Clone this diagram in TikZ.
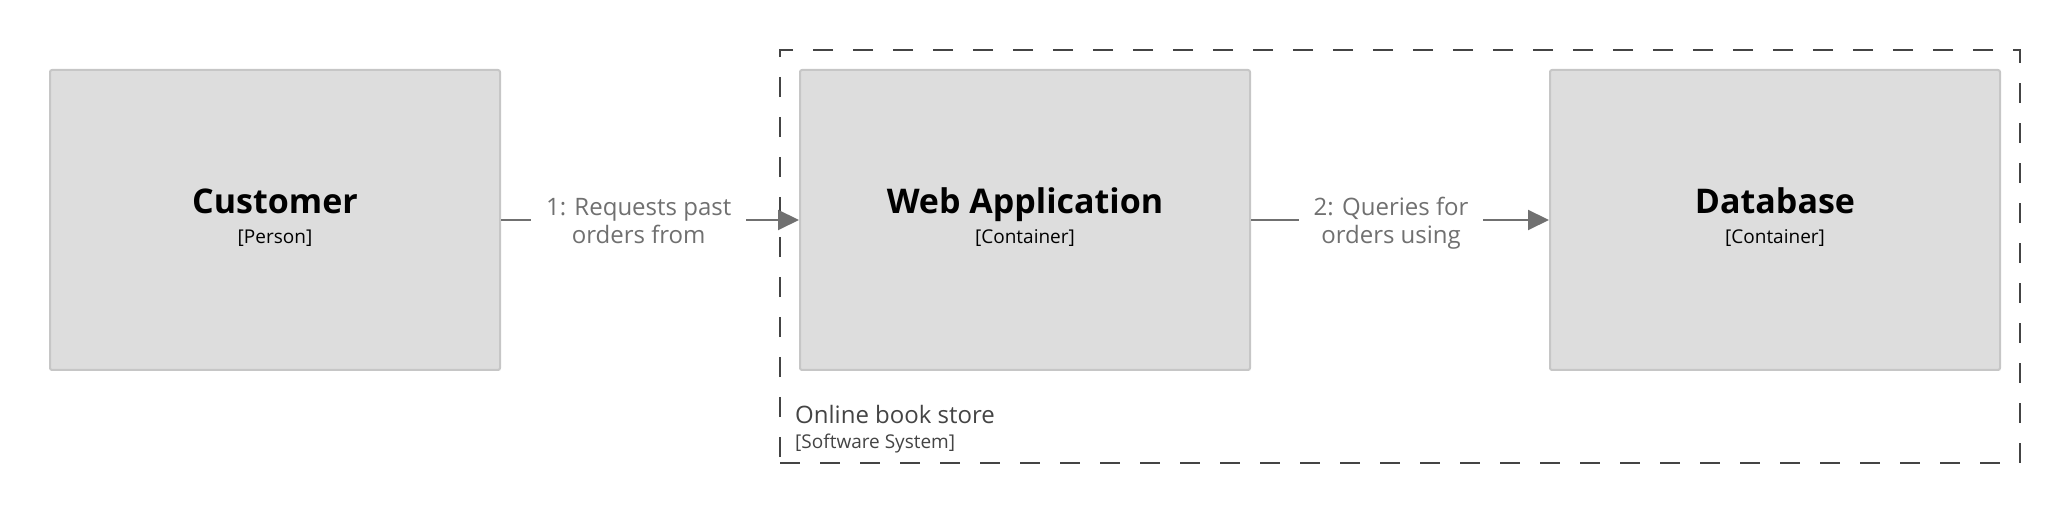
\documentclass[tikz,border=0pt]{standalone}
\usepackage{fontspec}
\setmainfont{Open Sans}
\usetikzlibrary{arrows.meta,calc}
\definecolor{boxfill}{HTML}{DDDDDD}
\definecolor{boxborder}{HTML}{C6C6C6}
\definecolor{conn}{HTML}{707070}
\definecolor{bnd}{HTML}{444444}
\begin{document}
\begin{tikzpicture}[x=1pt,y=1pt,
  elem/.style={draw=boxborder, fill=boxfill, line width=2pt, rounded corners=2pt,
    minimum width=450pt, minimum height=300pt, inner sep=0pt},
  boundary/.style={draw=bnd, line width=2pt, dash pattern=on 20pt off 20pt,
    minimum width=1240pt, minimum height=413pt, inner sep=0pt},
  titletext/.style={anchor=base, inner sep=0pt, font=\fontsize{34}{40}\selectfont\bfseries},
  metatext/.style={anchor=base, inner sep=0pt, font=\fontsize{19}{23}\selectfont},
  conline/.style={draw=conn, line width=2pt, -{Triangle[length=21pt,width=20pt]}},
  conlabel/.style={fill=white, text=conn, align=center, inner xsep=15pt, inner ysep=0pt,
    text height=50pt, text depth=2pt, font=\fontsize{24}{28}\selectfont},
  bndname/.style={anchor=base west, inner sep=0pt, text=bnd, font=\fontsize{24}{28}\selectfont},
  bndmeta/.style={anchor=base west, inner sep=0pt, text=bnd, font=\fontsize{19}{23}\selectfont}
]
\useasboundingbox (0,0) rectangle (2070,513);

% software system boundary
\node[boundary] (store) at (1400,256.5) {};
\node[bndname] (storename) at ($(store.south west)+(16,40)$) {Online book store};
\node[bndmeta] (storemeta) at ($(store.south west)+(16,15)$) {[Software System]};

% elements
\node[elem] (cust) at (275,293) {};
\node[titletext] (custt) at ($(cust.center)+(0,6)$) {Customer};
\node[metatext] (custm) at ($(cust.center)+(0,-24)$) {[Person]};

\node[elem] (web) at (1025,293) {};
\node[titletext] (webt) at ($(web.center)+(0,6)$) {Web Application};
\node[metatext] (webm) at ($(web.center)+(0,-24)$) {[Container]};

\node[elem] (db) at (1775,293) {};
\node[titletext] (dbt) at ($(db.center)+(0,6)$) {Database};
\node[metatext] (dbm) at ($(db.center)+(0,-24)$) {[Container]};

% relationships
\draw[conline] (cust.east) -- node[conlabel, pos=0.462] (l1) {1: Requests past\\orders from} (web.west);
\draw[conline] (web.east) -- node[conlabel, pos=0.47] (l2) {2: Queries for\\orders using} (db.west);
\end{tikzpicture}
\end{document}
